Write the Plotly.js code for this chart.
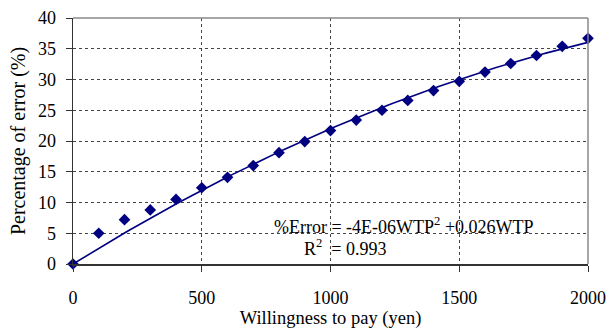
<!DOCTYPE html>
<html><head><meta charset="utf-8">
<script src="https://cdn.plot.ly/plotly-3.0.1.min.js"></script>
<style>html,body{margin:0;padding:0;background:#fff}</style>
</head><body><div id="chart" style="width:610px;height:331px"></div>
<script>
const wtp = [0,100,200,300,400,500,600,700,800,900,1000,1100,1200,1300,1400,1500,1600,1700,1800,1900,2000];
const errorPct = [0,5.0,7.2,8.8,10.5,12.4,14.1,16.0,18.1,19.9,21.7,23.4,25.0,26.6,28.2,29.7,31.2,32.6,33.9,35.4,36.7];
const xTicks = [0,500,1000,1500,2000];
const yTicks = [0,5,10,15,20,25,30,35,40];

// least-squares quadratic through origin: y = a x^2 + b x (trendline from data)
let s4=0,s3=0,s2=0,sx2y=0,sxy=0;
for (let i=0;i<wtp.length;i++){const x=wtp[i],y=errorPct[i];s4+=x**4;s3+=x**3;s2+=x*x;sx2y+=x*x*y;sxy+=x*y;}
const det=s4*s2-s3*s3;
const a=(sx2y*s2-s3*sxy)/det, b=(s4*sxy-s3*sx2y)/det;
const fitX=[],fitY=[];
for (let x=0;x<=2000;x+=20){fitX.push(x);fitY.push(a*x*x+b*x);}

const navy='#000080';
const fam='Liberation Serif, Times New Roman, serif';
const f=(s)=>({family:fam,size:s,color:'#000'});
const data=[
 {x:fitX,y:fitY,mode:'lines',line:{color:navy,width:1.6},hoverinfo:'skip',cliponaxis:false},
 {x:wtp,y:errorPct,mode:'markers',marker:{symbol:'diamond',size:9,color:navy},cliponaxis:false}
];
const layout={
 width:610,height:331,margin:{l:73,r:22,t:18,b:67},
 paper_bgcolor:'#fff',plot_bgcolor:'#fff',showlegend:false,font:f(18),
 xaxis:{range:[0,2000],tickvals:xTicks,ticks:'outside',ticklen:6,tickcolor:'#333',
   ticklabelstandoff:11,showline:true,linecolor:'#333',linewidth:1.5,mirror:false,
   showgrid:true,gridcolor:'#444',griddash:'dot',gridwidth:1,zeroline:false,
   tickfont:f(18),
   title:{text:'Willingness to pay (yen)',font:f(18.5),standoff:1}},
 yaxis:{range:[0,40],tickvals:yTicks,ticks:'outside',ticklen:6,tickcolor:'#333',
   ticklabelstandoff:6,showline:true,linecolor:'#333',linewidth:1.5,
   showgrid:true,gridcolor:'#444',griddash:'dot',gridwidth:1,zeroline:false,
   tickfont:f(18),
   title:{text:'Percentage of error (%)',font:f(20),standoff:7}},
 shapes:[{type:'line',xref:'paper',yref:'paper',x0:0,x1:1,y0:1,y1:1,line:{color:'#888',width:1.5}},
         {type:'line',xref:'paper',yref:'paper',x0:1,x1:1,y0:0,y1:1,line:{color:'#888',width:1.5}}],
 annotations:[
  {xref:'paper',yref:'paper',x:(272-73)/515,y:(264-226)/246,xanchor:'left',yanchor:'middle',showarrow:false,
   text:'%Error = -4E-06WTP<sup>2</sup> +0.026WTP',font:f(18)},
  {xref:'paper',yref:'paper',x:(302-73)/515,y:(264-247)/246,xanchor:'left',yanchor:'middle',showarrow:false,
   text:'R<sup>2</sup>  = 0.993',font:f(18)}
 ]
};
Plotly.newPlot('chart',data,layout,{staticPlot:true,displayModeBar:false});
</script></body></html>
